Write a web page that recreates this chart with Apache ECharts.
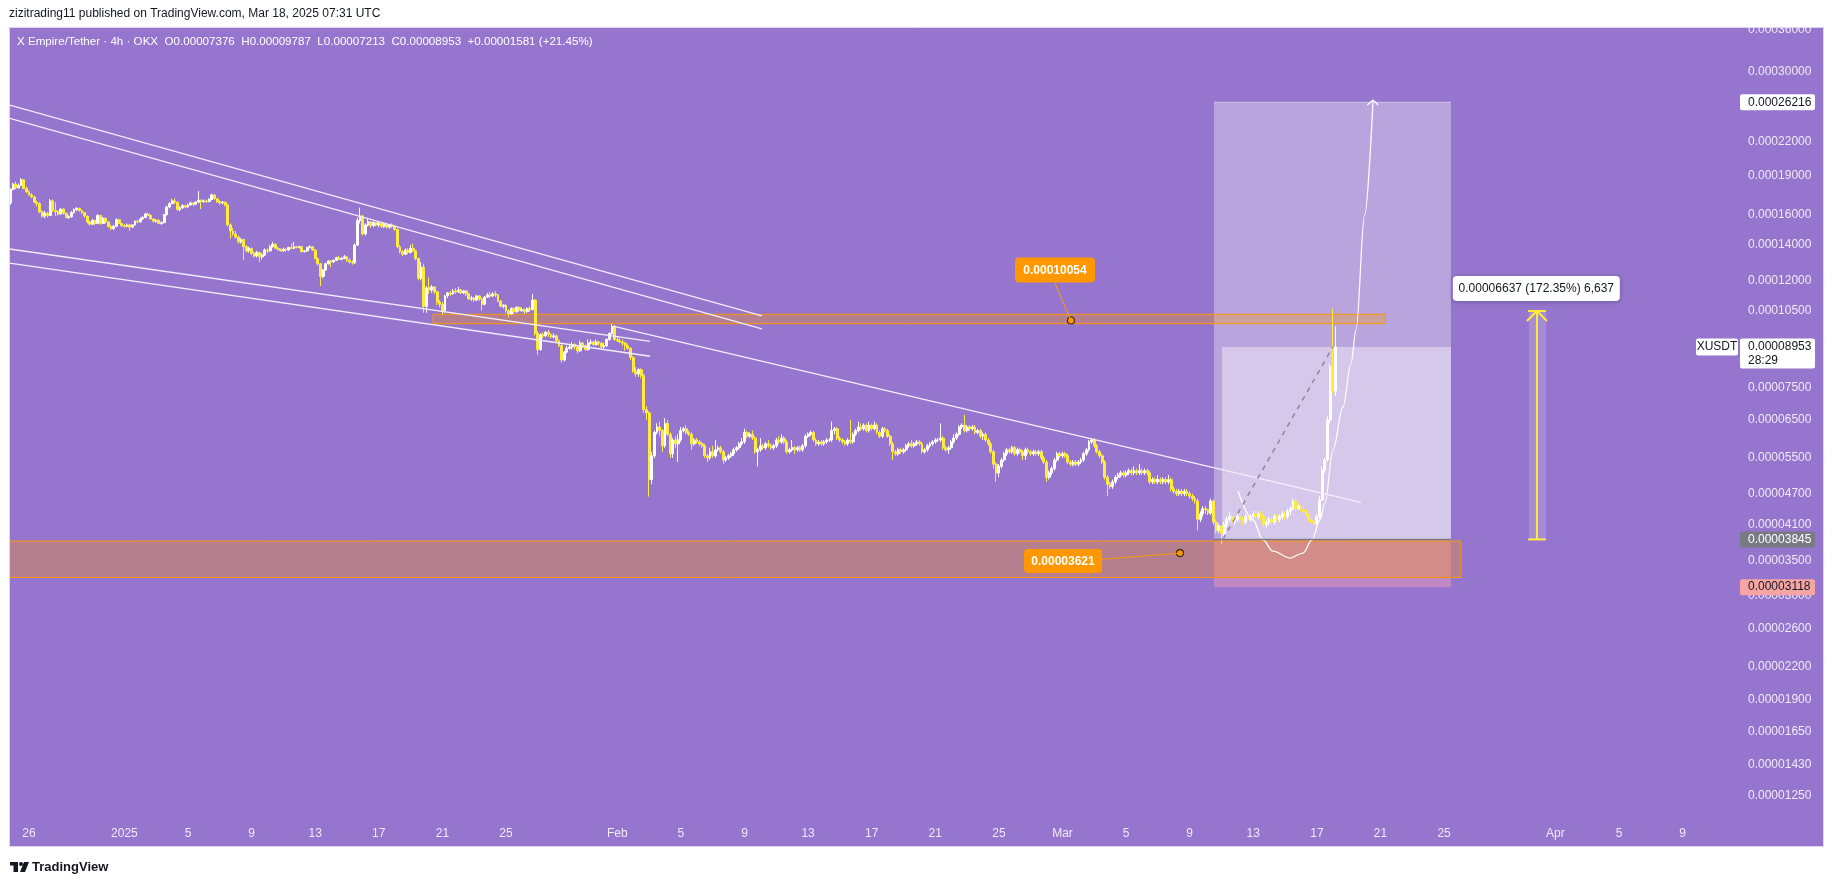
<!DOCTYPE html>
<html>
<head>
<meta charset="utf-8">
<title>X Empire/Tether 4h</title>
<script src="https://cdn.jsdelivr.net/npm/echarts@6/dist/echarts.min.js"></script>
<style>
html,body{margin:0;padding:0;background:#ffffff;overflow:hidden;}
#chart{width:1835px;height:883px;}
</style>
</head>
<body>
<div id="chart"></div>
<script>
// ================= DATA (prices in units of 1e-8 USDT) =================
const FIRST_CANDLE = '2024-12-24T20:00:00Z'; // 4h candles from here on
const FIRST_OPEN = 16840;

const closes = [
17900,
18300,18000,18200,18650,17950,17700,
17450,17300,16900,16800,16200,15900,
16100,15950,17000,16300,16200,16050,
16400,16100,15800,15850,16150,16350,
16450,16300,16150,15900,15500,15350,
15600,15400,15950,15400,15750,15500,
15200,15050,15200,15650,15400,15250,
15200,15300,15150,15300,15550,15500,
15700,15800,16050,15950,15700,15550,
15600,15400,15450,16000,16550,16800,
17000,16900,16350,16500,16650,16550,
16700,16850,16750,16900,17050,16950,
17000,16950,17100,17450,17150,16950,
16850,16900,16700,15300,14900,14700,
14500,14200,14350,13900,13650,13800,
13500,13350,13550,13300,13400,13700,
13650,13900,14050,13800,13750,13650,
13750,13700,13850,13800,13900,13850,
13900,13600,13650,13850,13900,13700,
13200,12900,12200,12550,12900,13050,
13000,13100,13250,13150,13200,13300,
13100,13000,12950,14000,15600,15900,
14700,15300,15500,15250,15450,15300,
15400,15200,15350,15150,15300,15200,
15000,13900,13600,13450,13700,13550,
13800,13650,13200,12100,12700,10700,
11600,11500,11650,11400,10900,10800,
10500,11200,11350,11300,11450,11400,
11500,11350,11450,11300,11050,11100,
11000,11200,11050,10800,11150,11250,
11200,11300,11250,10950,10700,10750,
10500,10350,10600,10450,10650,10500,
10550,10450,10600,10550,11000,9500,
8850,9450,9400,9550,9450,9350,
9400,9200,9000,8450,8750,8900,8950,
9050,8950,8800,9100,9000,8850,
9100,9150,9050,9150,9100,8950,
9000,9250,9500,9800,9250,9200,
9150,9100,9000,8900,8550,8050,
7950,8100,7900,6800,6700,5000,
5550,6150,6300,6200,5800,6400,
6100,5600,5950,5850,5950,6200,
6250,6150,6100,5850,5950,5900,
5850,5800,5550,5500,5650,5550,
5700,5750,5650,5450,5500,5550,
5600,5700,5750,5850,5900,6150,
6050,6100,6000,5650,5700,5800,
5750,5850,5800,5750,5800,5950,
5900,6000,5900,5650,5700,5750,
5700,5750,5700,5800,6050,6100,
6150,5950,5850,5900,5850,5900,
5950,5950,6200,6250,6000,5950,
5900,5850,5950,5900,6100,6200,
6300,6250,6350,6200,6350,6250,
6350,6150,6050,6250,6200,6050,
5850,5650,5600,5700,5650,5700,
5800,5850,5800,5850,5900,5850,
5650,5700,5800,5850,5900,5950,5950,
6000,5750,5700,5750,5900,6000,
6100,6300,6350,6200,6300,6250,
6300,6150,6200,6050,6100,5950,
5850,5650,5350,5150,5300,5450,
5600,5700,5650,5750,5600,5700,
5650,5550,5700,5650,5600,5650,
5600,5650,5500,5400,5050,5150,
5250,5450,5600,5550,5600,5550,
5400,5350,5400,5350,5400,5450,
5600,5700,5900,5950,5800,5650,
5550,5400,5050,4900,4850,4950,
5050,5100,5150,5100,5150,5200,
5150,5200,5150,5200,5150,5200,
5150,4950,5000,4950,5000,4950,
5000,4950,5000,4800,4750,4700,
4750,4700,4750,4700,4650,4600,
4550,4200,4300,4400,
4380,4320,4550,4150,4000,4080,
3950,4100,4200,4250,4150,4200,
4250,4200,4150,4250,4200,4250,
4300,4250,4300,4250,4100,4150,
4200,4150,4250,4200,4250,4300,
4250,4350,4400,4550,4400,4450,
4380,4340,4280,4190,4150,4120,
4250,4570,5214,5450,6495,8197,
7376,8953
];

const highs = [
17950,
18400,18500,18350,18800,18700,18100,
17800,17600,17400,17000,16900,16300,
16250,16200,17150,17100,16900,16300,
16450,16450,16150,15950,16250,16450,
16550,16500,16350,16200,15950,15600,
15700,15650,16050,16000,15850,15800,
15550,15300,15300,15750,15700,15450,
15350,15400,15350,15350,15600,15650,
15800,15900,16150,16150,16000,15750,
15700,15700,15550,16050,16650,16900,
17150,17200,16950,16600,16750,16700,
16800,16950,16900,17000,17750,17100,
17100,17100,17200,17550,17500,17200,
17050,17000,16950,16750,15400,15100,
14900,14600,14450,14400,14000,13900,
13850,13600,13650,13600,13500,13800,
13800,14000,14200,14100,13900,13800,
13850,13800,13900,14100,14200,13950,
13950,13950,13700,13900,14000,13950,
13750,13250,12950,12600,12950,13100,
13100,13150,13300,13350,13300,13400,
13350,13200,13100,14100,15800,16500,
16000,15400,15700,15550,15550,15500,
15500,15450,15450,15400,15350,15400,
15300,15050,14000,13700,13800,13800,
14000,14100,13700,13250,13000,12900,
11700,12150,11750,11700,11450,11000,
10900,11250,11400,11450,11550,11600,
11650,11550,11500,11500,11350,11200,
11150,11250,11250,11100,11200,11350,
11400,11400,11450,11300,11000,10800,
10800,10550,10650,10650,10700,10700,
10650,10600,10650,10700,11300,11050,
9600,9500,9550,9600,9650,9500,
9500,9450,9250,9050,8800,9000,9050,
9150,9100,9000,9200,9150,9050,
9250,9250,9200,9250,9200,9150,
9100,9300,9550,9900,9850,9350,
9300,9250,9150,9050,8950,8600,
8200,8150,8150,7950,6900,6750,
5650,6200,6400,6450,6250,6550,
6500,6150,6000,6050,6100,6300,
6300,6350,6200,6150,6000,6000,
5950,5900,5850,5600,5750,5800,
5950,5800,5800,5700,5550,5600,
5650,5750,5800,5900,6000,6250,
6200,6150,6200,6050,5750,6000,
5850,5900,5950,5850,5850,6000,
6050,6100,6050,5950,5750,5950,
5800,5800,5800,5850,6100,6150,
6200,6200,6000,5950,5950,5950,
6000,6000,6450,6300,6300,6050,
6000,5950,6000,6500,6150,6250,
6450,6400,6400,6400,6450,6400,
6450,6400,6200,6300,6300,6250,
6100,5900,5700,5750,5750,5750,
5850,5900,5950,5900,5950,5950,
5900,5750,5850,5900,5950,6000,6000,
6400,6050,5800,5800,5950,6100,
6150,6350,6400,6650,6350,6350,
6350,6350,6250,6250,6150,6150,
6000,5900,5700,5400,5350,5500,
5650,5750,5750,5800,5800,5750,
5750,5700,5750,5750,5700,5700,
5700,5700,5700,5550,5450,5200,
5300,5500,5650,5650,5650,5650,
5600,5450,5450,5450,5450,5500,
5650,5750,5950,6000,6000,5850,
5700,5600,5450,5100,4950,5000,
5100,5150,5200,5200,5200,5250,
5250,5300,5250,5350,5250,5250,
5250,5200,5050,5050,5100,5050,
5050,5050,5100,5050,4850,4800,
4800,4800,4800,4800,4750,4700,
4650,4600,4350,4450,
4450,4400,4600,4580,4200,4120,
4100,4150,4250,4350,4300,4250,
4300,4300,4250,4300,4300,4300,
4350,4350,4350,4350,4300,4200,
4250,4250,4300,4300,4300,4350,
4350,4400,4450,4600,4600,4500,
4480,4420,4380,4300,4220,4180,
4300,4650,5300,5500,6600,8300,
10590,9787
];

const lows = [
16700,
17800,17900,17950,18150,17900,17600,
17400,17200,16850,16600,16100,15800,
15750,15800,15900,16200,15900,15950,
16000,16000,15750,15700,15800,16100,
16250,16200,16050,15800,15400,15250,
15300,15300,15350,15300,15350,15400,
15100,14950,14950,15150,15350,15150,
15100,15150,14900,15100,15250,15400,
15450,15650,15750,15900,15650,15450,
15450,15350,15300,15400,15950,16450,
16750,16800,16300,16250,16400,16450,
16500,16650,16600,16700,16850,16400,
16850,16850,16900,17050,17100,16850,
16700,16750,16600,15200,14400,14600,
14400,14100,14100,13100,13550,13550,
13400,13250,13250,13000,13150,13350,
13500,13600,13850,13750,13650,13600,
13600,13600,13650,13750,13750,13800,
13800,13550,13550,13600,13800,13650,
13150,12800,11700,12100,12500,12850,
12700,12950,13050,13100,13100,13150,
13000,12900,12850,12900,13950,15400,
14600,14600,15200,15100,15150,15200,
15150,15100,15100,15050,15050,15100,
14900,13800,13500,13350,13400,13450,
13500,13600,13100,12000,12000,10400,
10400,11300,11350,11300,10750,10650,
10300,10400,11100,11200,11250,11300,
11350,11300,11300,11200,11000,10950,
10900,10950,10950,10500,10750,11100,
11100,11150,11150,10900,10650,10600,
10400,10200,10300,10350,10400,10450,
10450,10350,10400,10450,10500,9400,
8650,8800,9300,9350,9350,9300,
9300,9150,8950,8350,8400,8700,8850,
8850,8850,8700,8750,8900,8800,
8800,9050,9000,9000,9000,8900,
8900,8950,9200,9450,9200,9150,
9100,9000,8800,8850,8450,8000,
7850,7850,7800,6700,6500,4640,
4900,5500,6100,6050,5650,5750,
6050,5500,5500,5750,5400,5900,
6150,6100,6050,5700,5800,5850,
5800,5750,5500,5400,5450,5500,
5500,5650,5600,5350,5400,5450,
5500,5550,5650,5700,5800,5850,
6000,6000,5950,5600,5300,5650,
5700,5700,5750,5700,5700,5750,
5850,5850,5850,5600,5600,5650,
5600,5650,5650,5650,5750,6000,
6050,5900,5800,5800,5800,5800,
5850,5900,5900,6100,5950,5900,
5850,5800,5800,5850,5850,6050,
6150,6200,6200,6150,6150,6200,
6200,6100,6000,6000,6150,6000,
5800,5450,5550,5550,5600,5600,
5650,5750,5750,5750,5800,5800,
5600,5600,5650,5750,5800,5850,5900,
5900,5700,5650,5600,5700,5850,
5950,6050,6250,6150,6150,6200,
6200,6100,6100,6000,5950,5900,
5800,5600,5250,4950,5050,5250,
5400,5550,5600,5600,5550,5550,
5600,5450,5450,5600,5550,5550,
5550,5550,5450,5350,4950,5000,
5100,5200,5400,5500,5500,5500,
5350,5300,5300,5300,5300,5350,
5400,5550,5650,5850,5750,5600,
5500,5350,5000,4650,4800,4800,
4900,5000,5050,5050,5050,5100,
5100,5100,5100,5100,5100,5100,
5100,4900,4900,4900,4900,4900,
4900,4900,4900,4750,4700,4650,
4650,4650,4650,4650,4600,4550,
4500,4000,4150,4250,
4300,4280,4280,4100,3950,3950,
3770,3900,4050,4150,4100,4100,
4150,4150,4100,4100,4150,4150,
4200,4200,4200,4200,4050,4050,
4100,4100,4100,4150,4150,4200,
4200,4200,4280,4380,4350,4380,
4350,4300,4250,4150,4120,4080,
4100,4200,4550,5150,5400,6400,
7300,7213
];

// Axis tick labels
const yTicks = [0.00036, 0.0003, 0.00022, 0.00019, 0.00016, 0.00014, 0.00012, 0.000105,
  0.000075, 0.000065, 0.000055, 0.000047, 0.000041, 0.000035, 0.00003, 0.000026,
  0.000022, 0.000019, 0.0000165, 0.0000143, 0.0000125];
const xTickDates = ['2024-12-26','2025-01-01','2025-01-05','2025-01-09','2025-01-13','2025-01-17',
  '2025-01-21','2025-01-25','2025-02-01','2025-02-05','2025-02-09','2025-02-13','2025-02-17',
  '2025-02-21','2025-02-25','2025-03-01','2025-03-05','2025-03-09','2025-03-13','2025-03-17',
  '2025-03-21','2025-03-25','2025-04-01','2025-04-05','2025-04-09'];
const xTickLabels = ['26','2025','5','9','13','17','21','25','Feb','5','9','13','17','21','25',
  'Mar','5','9','13','17','21','25','Apr','5','9'];

// Drawings: [days since 2024-12-26 00:00 UTC, price in 1e-8]
const trendUpper = [[-1.32, 25945], [46.1, 10260]];
const trendLower = [[-1.32, 24484], [46.1, 9689]];
const channelTop = [[-1.32, 13777], [39.06, 9172]];
const channelBottom = [[-1.32, 12953], [39.06, 8594]];
const longTrend = [[36.73, 9813], [83.77, 4525]];
const resistanceZone = [25.41, 10332, 85.3, 9914];
const supportZone = [-1.4, 3817, 90.06, 3253];
const positionDays = [74.53, 75.03, 89.43];
const targetPrice = 26216, entryPrice = 3845, stopPrice = 3118, lastPrice = 8953;
const cupCurve = [[76.04,4755],[76.98,4187],[77.61,3835],[78.24,3653],[79.31,3543],[80.13,3622],
  [80.69,3835],[81.19,4187],[81.51,4511],[82.01,5693],[82.64,6877],[83.14,8305],[83.46,9643],
  [84.0,15977],[84.53,26475]];
const cupArrow = [[84.17,25898],[84.53,26475],[84.86,25898]];
const projection = [[75.09, 3845], [82.0, 8953]];
const measureDays = [94.28, 94.84, 95.41];
const measureArms = [[94.21, 10030], [94.84, 10482], [95.47, 10030]];
const measureTop = 10482;
const measureLabelAt = [94.80, 11571];
const resistDot = [65.53, 10054], resistLabelAt = [64.53, 12549], resistTail = [64.53, 11852];
const supportDot = [72.39, 3621], supportLabelAt = [65.03, 3496], supportTail = [67.42, 3522];

const headerText = 'zizitrading11 published on TradingView.com, Mar 18, 2025 07:31 UTC';
const legendText = 'X Empire/Tether \u00b7 4h \u00b7 OKX  O0.00007376  H0.00009787  L0.00007213  C0.00008953  +0.00001581 (+21.45%)';

// ================= CHART =================
if (closes.length !== highs.length || closes.length !== lows.length) {
  throw new Error('length mismatch ' + closes.length + ' ' + highs.length + ' ' + lows.length);
}
const DAY = 864e5, H4 = 4 * 3600e3;
const BASE = Date.parse('2024-12-26T00:00:00Z');
const START = Date.parse(FIRST_CANDLE);
const T = d => BASE + d * DAY;
const P = v => v * 1e-8;
const pts = arr => arr.map(a => [T(a[0]), P(a[1])]);

const candleData = closes.map((c, i) => {
  const o = i === 0 ? FIRST_OPEN : closes[i - 1];
  return [START + i * H4, P(o), P(c), P(lows[i]), P(highs[i])];
});

const FONT = "'Liberation Sans', Arial, sans-serif";
const YEL = '#ffeb3b';

function rectSeries(rects, style) {
  return {
    type: 'custom', silent: true, clip: true, animation: false,
    data: rects.map(r => [T(r[0]), P(r[1]), T(r[2]), P(r[3])]),
    encode: { x: [0, 2], y: [1, 3] },
    renderItem: (params, api) => {
      const a = api.coord([api.value(0), api.value(1)]);
      const b = api.coord([api.value(2), api.value(3)]);
      return { type: 'rect', shape: { x: Math.min(a[0], b[0]), y: Math.min(a[1], b[1]),
        width: Math.abs(b[0] - a[0]), height: Math.abs(b[1] - a[1]) }, style: style };
    }
  };
}
function lineSeries(data, color, width, extra) {
  return Object.assign({
    type: 'line', data: data, symbol: 'none', silent: true, animation: false,
    lineStyle: { color: color, width: width }
  }, extra || {});
}
function noteSeries(at, w, h, bg, fg, text, weight, shadow) {
  return {
    type: 'custom', silent: true, animation: false, clip: false,
    data: [[T(at[0]), P(at[1])]],
    encode: { x: 0, y: 1 },
    renderItem: (params, api) => {
      const c = api.coord([api.value(0), api.value(1)]);
      return { type: 'group', children: [
        { type: 'rect', shape: { x: c[0] - w / 2, y: c[1] - h / 2, width: w, height: h, r: 4 },
          style: { fill: bg, shadowBlur: shadow ? 4 : 0, shadowOffsetY: shadow ? 1 : 0, shadowColor: 'rgba(0,0,0,0.25)' } },
        { type: 'text', x: c[0], y: c[1] + 0.5,
          style: { text: text, fill: fg, fontSize: 12, fontWeight: weight, fontFamily: FONT, align: 'center', verticalAlign: 'middle' } }
      ] };
    }
  };
}

const option = {
  backgroundColor: '#9575cd',
  animation: false,
  grid: { left: 9, right: 93, top: 27, bottom: 64 },
  xAxis: { type: 'time', min: T(-1.257), max: T(107.736), show: false, splitLine: { show: false } },
  yAxis: { type: 'log', logBase: 10, min: P(1126.6), max: P(36477), show: false, splitLine: { show: false } },
  series: [
    // long position areas
    rectSeries([[positionDays[0], targetPrice, positionDays[2], entryPrice]], { fill: 'rgba(255,255,255,0.34)' }),
    rectSeries([[positionDays[1], lastPrice, positionDays[2], entryPrice]], { fill: 'rgba(255,255,255,0.4)' }),
    rectSeries([[positionDays[0], entryPrice, positionDays[2], stopPrice]], { fill: 'rgba(255,160,180,0.42)' }),
    rectSeries([[measureDays[0] + 0.06, entryPrice, measureDays[2], measureTop]], { fill: 'rgba(255,255,255,0.17)' }),
    lineSeries([[T(positionDays[0]), P(targetPrice)], [T(positionDays[2]), P(targetPrice)]], 'rgba(255,255,255,0.45)', 1),
    // cup curve
    lineSeries(pts(cupCurve), 'rgba(255,255,255,0.95)', 1.3, { smooth: 0.35, smoothMonotone: 'x' }),
    lineSeries(pts(cupArrow), 'rgba(255,255,255,0.95)', 1.3),
    // zones
    rectSeries([resistanceZone], { fill: 'rgba(255,152,0,0.3)', stroke: '#ff9800', lineWidth: 1 }),
    rectSeries([supportZone], { fill: 'rgba(255,152,0,0.3)', stroke: '#ff9800', lineWidth: 1 }),
    // entry line
    lineSeries([[T(positionDays[0]), P(entryPrice)], [T(positionDays[2]), P(entryPrice)]], '#787b86', 1.5),
    // trend lines
    lineSeries(pts(trendUpper), '#f3eefc', 1.3),
    lineSeries(pts(trendLower), '#f3eefc', 1.3),
    lineSeries(pts(channelTop), '#f3eefc', 1.3),
    lineSeries(pts(channelBottom), '#f3eefc', 1.3),
    lineSeries(pts(longTrend), '#f3eefc', 1.3),
    // candles
    {
      type: 'candlestick', animation: false, silent: true, barWidth: 2.4,
      data: candleData,
      encode: { x: 0, y: [1, 2, 3, 4] },
      itemStyle: { color: '#ffffff', color0: YEL, borderColor: '#ffffff', borderColor0: YEL, borderWidth: 1 },
      markLine: {
        silent: true, symbol: ['none', 'none'], animation: false,
        label: { show: false },
        lineStyle: { color: '#ffffff', type: [1.5, 2.5], width: 1 },
        data: [{ yAxis: P(lastPrice) }]
      }
    },
    // projection dashed
    lineSeries(pts(projection), '#8d8898', 1.5, { lineStyle: { color: '#8d8898', width: 1.5, type: [5, 5] } }),
    // measure arrow
    lineSeries([[T(measureDays[1]), P(entryPrice)], [T(measureDays[1]), P(measureTop)]], YEL, 2),
    lineSeries([[T(measureDays[0]), P(measureTop)], [T(measureDays[2]), P(measureTop)]], YEL, 2),
    lineSeries([[T(measureDays[0]), P(entryPrice)], [T(measureDays[2]), P(entryPrice)]], YEL, 2),
    lineSeries(pts(measureArms), YEL, 2),
    // note pointers
    lineSeries(pts([resistTail, resistDot]), '#ff9800', 1),
    lineSeries(pts([supportTail, supportDot]), '#ff9800', 1),
    {
      type: 'scatter', silent: true, animation: false, symbol: 'circle', symbolSize: 7,
      data: pts([resistDot, supportDot]),
      itemStyle: { color: '#ff9800', borderColor: '#3a2a10', borderWidth: 1.2, opacity: 1 }
    },
    noteSeries(resistLabelAt, 80, 25, '#ff9800', '#ffffff', '0.00010054', 'bold', false),
    noteSeries(supportLabelAt, 78, 24, '#ff9800', '#ffffff', '0.00003621', 'bold', false),
    noteSeries(measureLabelAt, 167, 25, '#ffffff', '#131722', '0.00006637 (172.35%) 6,637', 'normal', true)
  ]
};

const chart = echarts.init(document.getElementById('chart'), null, { renderer: 'canvas' });
chart.setOption(option);

const yPx = v => chart.convertToPixel({ yAxisIndex: 0 }, v);
const xPx = v => chart.convertToPixel({ xAxisIndex: 0 }, v);
const LAB = '#efeaf8';
const g = [];
// y tick labels
yTicks.forEach(v => {
  g.push({ type: 'text', z: 50, x: 1748, y: yPx(v),
    style: { text: v.toFixed(8), fill: LAB, fontSize: 12, fontFamily: FONT, align: 'left', verticalAlign: 'middle' } });
});
// x tick labels
xTickDates.forEach((d, i) => {
  g.push({ type: 'text', z: 50, x: xPx(Date.parse(d)), y: 834,
    style: { text: xTickLabels[i], fill: LAB, fontSize: 12, fontFamily: FONT, align: 'center', verticalAlign: 'middle' } });
});
function priceTag(price, text, bg, fg, h) {
  const y = yPx(P(price));
  g.push({ type: 'rect', z: 60, shape: { x: 1740, y: y - h / 2, width: 75, height: h, r: 2 }, style: { fill: bg } });
  g.push({ type: 'text', z: 61, x: 1748, y: y, style: { text: text, fill: fg, fontSize: 12, fontFamily: FONT, align: 'left', verticalAlign: 'middle' } });
}
priceTag(targetPrice, '0.00026216', '#ffffff', '#131722', 16);
priceTag(entryPrice, '0.00003845', '#787b86', '#ffffff', 16);
priceTag(stopPrice, '0.00003118', '#f7a4a4', '#131722', 16);
// current price tag with countdown
(function () {
  const y = yPx(P(lastPrice));
  g.push({ type: 'rect', z: 60, shape: { x: 1740, y: y - 8.5, width: 75, height: 30, r: 2 }, style: { fill: '#ffffff' } });
  g.push({ type: 'text', z: 61, x: 1748, y: y, style: { text: '0.00008953', fill: '#131722', fontSize: 12, fontFamily: FONT, verticalAlign: 'middle' } });
  g.push({ type: 'text', z: 61, x: 1748, y: y + 14, style: { text: '28:29', fill: '#131722', fontSize: 12, fontFamily: FONT, verticalAlign: 'middle' } });
  g.push({ type: 'rect', z: 60, shape: { x: 1696, y: y - 8.5, width: 42, height: 17, r: 2 }, style: { fill: '#ffffff' } });
  g.push({ type: 'text', z: 61, x: 1717, y: y, style: { text: 'XUSDT', fill: '#131722', fontSize: 12, fontFamily: FONT, align: 'center', verticalAlign: 'middle' } });
})();
// page frame (white margins)
g.push({ type: 'rect', z: 90, shape: { x: 0, y: 0, width: 1835, height: 27 }, style: { fill: '#ffffff' } });
g.push({ type: 'rect', z: 90, shape: { x: 0, y: 847, width: 1835, height: 36 }, style: { fill: '#ffffff' } });
g.push({ type: 'rect', z: 90, shape: { x: 0, y: 0, width: 9, height: 883 }, style: { fill: '#ffffff' } });
g.push({ type: 'rect', z: 90, shape: { x: 1824, y: 0, width: 11, height: 883 }, style: { fill: '#ffffff' } });
g.push({ type: 'rect', z: 91, shape: { x: 9.5, y: 27.5, width: 1814, height: 819 }, style: { fill: null, stroke: 'rgba(230,224,245,0.9)', lineWidth: 1 } });
// header and legend
g.push({ type: 'text', z: 95, x: 9, y: 14, style: { text: headerText, fill: '#131722', fontSize: 12, fontFamily: FONT, verticalAlign: 'middle' } });
g.push({ type: 'text', z: 95, x: 17, y: 42, style: { text: legendText, fill: '#ffffff', fontSize: 11.6, fontFamily: FONT, verticalAlign: 'middle' } });
// footer logo
g.push({ type: 'rect', z: 95, shape: { x: 10, y: 862, width: 8, height: 3.5 }, style: { fill: '#131722' } });
g.push({ type: 'rect', z: 95, shape: { x: 13.5, y: 862, width: 4.5, height: 10 }, style: { fill: '#131722' } });
g.push({ type: 'circle', z: 95, shape: { cx: 21, cy: 864, r: 2 }, style: { fill: '#131722' } });
g.push({ type: 'polygon', z: 95, shape: { points: [[24, 862], [29, 862], [25, 872], [20, 872]] }, style: { fill: '#131722' } });
g.push({ type: 'text', z: 95, x: 32, y: 867, style: { text: 'TradingView', fill: '#131722', fontSize: 13, fontWeight: 'bold', fontFamily: FONT, verticalAlign: 'middle' } });

chart.setOption({ graphic: g });
</script>
</body>
</html>
